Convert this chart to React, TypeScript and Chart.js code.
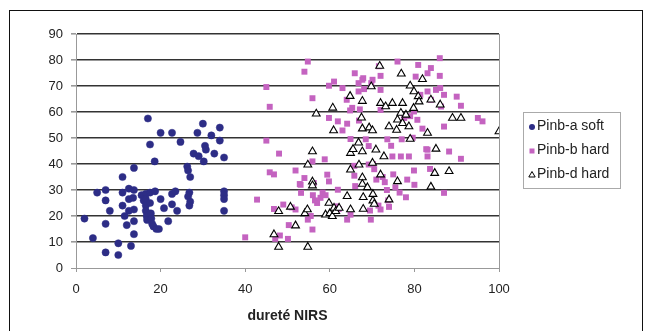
import React, { useEffect, useRef } from "react";
import { Chart, registerables } from "chart.js";

Chart.register(...registerables);

const seriesNames = ["Pinb-a soft", "Pinb-b hard", "Pinb-d hard"];
const xTickStep = 20;
const yTickStep = 10;
const xRange = [0, 100];
const yRange = [0, 90];
const xTitle = "dureté NIRS";

const pinbASoft: number[][] = [
  [2, 19], [4, 11.5], [5, 29], [7, 30], [7, 26], [7, 17], [7, 6], [8, 22], [10, 9.5], [10, 5],
  [11, 35], [11, 29], [11, 24], [11.5, 20], [12, 16.5], [12.5, 30.5], [12.5, 26.5], [12.5, 22], [13, 8.5],
  [13.7, 38.5], [13.7, 30], [13.5, 27], [13.7, 22.5], [13.7, 18], [13.7, 13],
  [15.5, 28], [16, 26], [16.5, 28.5], [16.5, 26.5], [16.5, 24], [16.5, 22], [16.7, 20], [16.8, 18.5], [17, 57.5],
  [17.5, 47.5], [17.5, 29], [17.5, 25], [17.7, 21], [17.8, 19], [18, 17], [18.3, 16], [18.6, 41], [18.7, 29.5],
  [19, 15], [19.6, 15], [20, 52], [20, 26.5], [20.8, 23], [21.8, 18],
  [22.7, 52], [22.7, 28.5], [22.7, 24.5], [23.5, 29.5], [23.9, 22], [24.7, 48.5],
  [26.3, 39], [26.5, 37.5], [27, 35], [26.8, 29], [26.5, 27.5], [27, 25.5], [26.8, 24], [27.8, 44], [28.7, 52],
  [29, 43], [30, 55.5], [30.2, 41], [30.5, 47], [30.7, 45.5], [32, 51], [32.7, 44], [34, 54], [34, 49],
  [35, 42.5], [35, 29.5], [35, 28], [35, 26.5], [35, 22],
];

const pinbBHard: number[][] = [
  [40, 11.8], [42.8, 26.3], [45, 69.6], [45, 49], [45.8, 62], [45.8, 36.8], [46.8, 36], [46.8, 22.7], [47.1, 11.2],
  [48, 44], [48.2, 12.5], [49, 24.4], [50.1, 11.2], [50.3, 16.5], [51, 23.3], [51.9, 37.5], [51.9, 22.5],
  [52.9, 32.3], [53.2, 28.9], [53.1, 32], [54, 75.5], [54.8, 79.4], [54, 34.6], [54.8, 18.6], [55.5, 20],
  [55.9, 65.3], [55.9, 41], [55.9, 14.8], [56.2, 32.7], [56, 28], [56.5, 26], [57, 25], [57.8, 27], [58.3, 29],
  [58.8, 41.8], [59.4, 35.9], [59.8, 33.3], [59, 28], [59.8, 57.7], [59.8, 70.1], [61, 71.7], [61.9, 56.4],
  [61.9, 30.1], [61.7, 23.7], [62.1, 22.7], [63, 69.2], [63, 52.9], [64, 64.7], [64.1, 55.5], [64.8, 60.6],
  [64.1, 18.6], [64.9, 20.5], [64.9, 49.6], [65.3, 61.6], [65.9, 74.9], [65.8, 39.3], [65.8, 35.5], [66, 31.5],
  [66.8, 71.1], [66.8, 67.9], [66.9, 56.7], [67.1, 61], [67.7, 72.4], [67.9, 73], [68.1, 68.8], [68.5, 49.5],
  [69.2, 46.9], [69.2, 39.8], [69.7, 18.6], [69.5, 22.1], [69.8, 71.1], [70.1, 72.4], [70.2, 40], [70.5, 38],
  [71, 34], [71.5, 24], [72, 22.5], [72, 73.9], [72, 68.5], [72, 60.8], [71.6, 77.6], [72.5, 35], [73, 33],
  [73.6, 49.5], [73.5, 30], [73.8, 26], [74, 23.5], [74.5, 47], [74.8, 42.9], [75, 36], [75.5, 31], [76, 79.4],
  [76.5, 29], [76.8, 42.9], [77, 49.5], [77.6, 57.7], [78, 27.2], [78.3, 34], [78.7, 42.9], [79, 58.4],
  [79.6, 50.1], [79.9, 37.5], [79.9, 60.2], [80, 32], [80.3, 73.6], [80.7, 57], [80.9, 78.1], [81.4, 66.6],
  [81.9, 53.6], [82.8, 45.7], [83.1, 74.9], [83.1, 67.9], [83.1, 45.5], [83.1, 42.9], [83.7, 38.1], [83.9, 76.9],
  [83.9, 64.7], [85.1, 68.5], [86, 80.7], [86, 73.9], [86.1, 69.2], [86.3, 62.1], [87, 66.6], [87, 54.4],
  [87, 28.9], [88.2, 44.8], [90, 65.9], [91, 62.4], [91, 42], [95, 57.7], [96.1, 56.4],
];

const pinbDHard: number[][] = [
  [46.8, 12.9], [47.9, 21.8], [47.9, 8.1], [50.7, 23.5], [51.9, 16.3], [54.1, 21], [54.7, 22.5], [54.8, 39.7],
  [54.8, 8.1], [55.9, 44.8], [55.9, 33.2], [55.9, 31.7], [56.8, 59.3], [59, 20.5], [59.8, 25], [60, 21],
  [60.6, 19.9], [60.7, 61.6], [60.9, 52.9], [61, 23.1], [61.4, 21.8], [62.2, 23.1], [64.1, 27.6], [64.9, 44.2],
  [64.9, 37.8], [64.8, 66.1], [64.9, 22.5], [65.5, 45.7], [66.8, 48.2], [66.9, 39.7], [67.5, 57.8], [67.7, 64.2],
  [67.7, 53.6], [67.7, 44.8], [67.7, 34.8], [67.7, 32.3], [67.9, 27.2], [67.9, 22.7], [68.9, 31], [69.3, 54],
  [69.8, 69.8], [70.1, 52.9], [70.1, 40.4], [70.2, 25.9], [70.5, 24.6], [70.2, 28.4], [70.9, 45.5], [71.8, 77.7],
  [72, 63.4], [72, 35.9], [72.8, 42.9], [73.2, 62.1], [74, 54.4], [74, 26.3], [74.8, 63.4], [75.8, 53.1],
  [76, 57], [76, 33.3], [76.9, 74.7], [76.8, 59.6], [77.2, 63.4], [77.2, 55.7], [78, 58.9], [78.7, 54.4],
  [79, 70.1], [79, 49.6], [79.8, 61.5], [79.9, 67.9], [80.9, 66], [81.1, 64], [81.9, 72.6], [83.1, 51.9],
  [83.9, 64.7], [83.9, 31.2], [84.8, 36.5], [85.1, 45.8], [86.1, 62.8], [88.2, 37.2], [89, 57.7], [91, 57.7],
  [100, 52.5],
];

const FONT = "'Liberation Sans', Arial, sans-serif";
const BLUE = "#2d2d86";
const PINK = "#c463c0";

const toPts = (arr: number[][]) => arr.map(([x, y]) => ({ x, y }));

const decorPlugin = {
  id: "decor",
  afterDraw(chart: any) {
    const { ctx, chartArea } = chart;
    ctx.save();
    // right border of plot area
    ctx.strokeStyle = "#999";
    ctx.lineWidth = 1;
    ctx.beginPath();
    ctx.moveTo(Math.round(chartArea.right) + 0.5, chartArea.top);
    ctx.lineTo(Math.round(chartArea.right) + 0.5, chartArea.bottom);
    ctx.stroke();
    // outer frame
    ctx.strokeStyle = "#111";
    ctx.lineWidth = 1;
    ctx.strokeRect(9.5, 10.5, 633, 340);
    // legend
    const lx = 523.5, ly = 112.5, lw = 97, lh = 76;
    ctx.fillStyle = "#fff";
    ctx.fillRect(lx, ly, lw, lh);
    ctx.strokeStyle = "#aaa";
    ctx.strokeRect(lx, ly, lw, lh);
    const rows = [126, 150, 174];
    ctx.font = `14px ${FONT}`;
    ctx.textBaseline = "middle";
    ctx.textAlign = "left";
    rows.forEach((ry, i) => {
      const mx = 532;
      const my = ry + 1;
      if (i === 0) {
        ctx.fillStyle = BLUE;
        ctx.beginPath();
        ctx.arc(mx, my, 3, 0, Math.PI * 2);
        ctx.fill();
      } else if (i === 1) {
        ctx.fillStyle = PINK;
        ctx.fillRect(mx - 2.5, my - 2.5, 5, 5);
      } else {
        ctx.fillStyle = "#fff";
        ctx.strokeStyle = "#000";
        ctx.lineWidth = 1;
        ctx.beginPath();
        ctx.moveTo(mx, my - 3.5);
        ctx.lineTo(mx + 3.2, my + 2);
        ctx.lineTo(mx - 3.2, my + 2);
        ctx.closePath();
        ctx.fill();
        ctx.stroke();
      }
      ctx.fillStyle = "#222";
      ctx.fillText(seriesNames[i], 537, ry);
    });
    ctx.restore();
  },
};

export default function App() {
  const ref = useRef<HTMLCanvasElement>(null);
  useEffect(() => {
    document.body.style.margin = "0";
    const canvas = ref.current!;
    const chart = new Chart(canvas, {
      type: "scatter",
      data: {
        datasets: [
          {
            label: seriesNames[0],
            data: toPts(pinbASoft),
            pointStyle: "circle",
            pointRadius: 3.6,
            backgroundColor: BLUE,
            borderColor: BLUE,
            borderWidth: 0.5,
            order: 2,
          },
          {
            label: seriesNames[1],
            data: toPts(pinbBHard),
            pointStyle: "rect",
            pointRadius: 4.2,
            backgroundColor: PINK,
            borderColor: PINK,
            borderWidth: 0,
            order: 1,
          },
          {
            label: seriesNames[2],
            data: toPts(pinbDHard),
            pointStyle: "triangle",
            pointRadius: 4.5,
            backgroundColor: "#fff",
            borderColor: "#000",
            borderWidth: 1.1,
            order: 0,
          },
        ],
      },
      options: {
        responsive: false,
        animation: false,
        events: [],
        layout: { padding: { left: 0, top: 34, right: 146, bottom: 0 } },
        plugins: { legend: { display: false }, tooltip: { enabled: false } },
        scales: {
          x: {
            type: "linear",
            min: xRange[0],
            max: xRange[1],
            ticks: { stepSize: xTickStep, color: "#222", font: { family: FONT, size: 13 }, padding: 10 },
            grid: { drawOnChartArea: false, drawTicks: true, tickLength: 4, tickColor: "#999", color: "#999" },
            border: { color: "#999", width: 1 },
            title: {
              display: true,
              text: xTitle,
              color: "#222",
              font: { family: FONT, size: 14, weight: "bold" },
              padding: { top: 0, bottom: 6 },
            },
            afterFit: (s: any) => {
              s.height = 63;
            },
          },
          y: {
            type: "linear",
            min: yRange[0],
            max: yRange[1],
            ticks: { stepSize: yTickStep, color: "#222", font: { family: FONT, size: 13 }, padding: 8 },
            grid: {
              drawTicks: true,
              tickLength: 5,
              tickColor: "#999",
              color: (c: any) => (c.tick && c.tick.value === 0 ? "#999" : "#333"),
              lineWidth: (c: any) => (c.tick && c.tick.value === 0 ? 1 : 1.6),
            },
            border: { color: "#999", width: 1 },
            afterFit: (s: any) => {
              s.width = 76;
            },
          },
        },
      },
      plugins: [decorPlugin],
    } as any);
    return () => chart.destroy();
  }, []);
  return (
    <div style={{ width: 645, height: 331, background: "#fff" }}>
      <canvas ref={ref} width={645} height={331} style={{ display: "block" }} />
    </div>
  );
}
